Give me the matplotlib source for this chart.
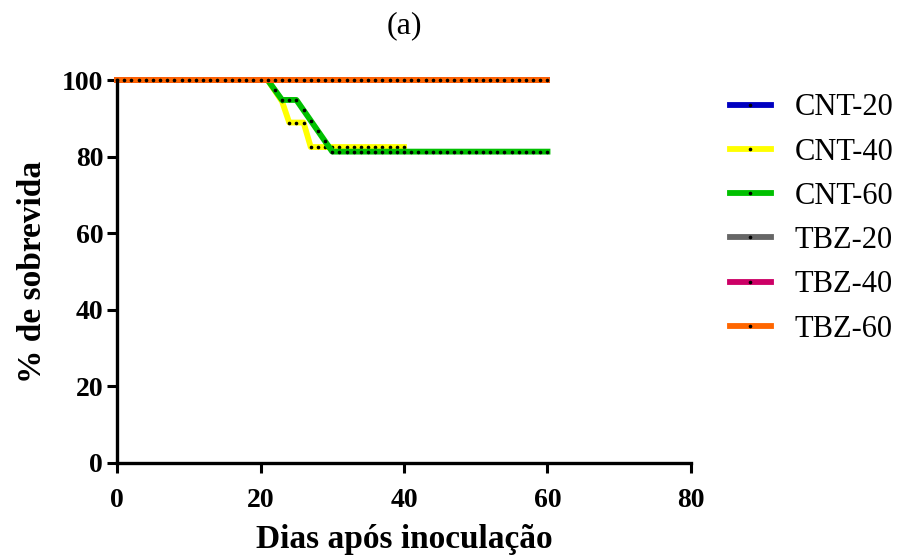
import matplotlib.pyplot as plt
import numpy as np

plt.rcParams['font.family'] = ['Liberation Serif', 'DejaVu Serif']

days60 = list(range(0, 61))
days40 = list(range(0, 41))

# % survival (one point per day)
cnt20 = [100] * 61
cnt40 = [100] * 22 + [97.2, 94.4, 88.9, 88.9, 88.9] + [82.5] * 14
cnt60 = [100] * 22 + [97.4, 94.8, 94.8, 94.8, 92.1, 89.4, 86.7, 84.0] + [81.3] * 31
tbz20 = [100] * 61
tbz40 = [100] * 61
tbz60 = [100] * 61

labels = ['CNT-20', 'CNT-40', 'CNT-60', 'TBZ-20', 'TBZ-40', 'TBZ-60']
colors = ['#0000C0', '#FFFF00', '#00C000', '#666666', '#CC0066', '#FF6600']
xs = [days60, days40, days60, days60, days60, days60]
ys = [cnt20, cnt40, cnt60, tbz20, tbz40, tbz60]

fig = plt.figure(figsize=(9.03, 5.58), dpi=100)
ax = fig.add_axes([0.1296, 0.1703, 0.6356, 0.6863])

for x, y, c, lab in zip(xs, ys, colors, labels):
    ax.plot(x, y, color=c, lw=4.2, marker='o', markersize=1.6,
            markerfacecolor='black', markeredgecolor='black',
            label=lab, clip_on=False)

ax.set_xlim(0, 80)
ax.set_ylim(0, 100)
ax.set_xticks([0, 20, 40, 60, 80])
ax.set_yticks([0, 20, 40, 60, 80, 100])

for s in ['top', 'right']:
    ax.spines[s].set_visible(False)
for s in ['left', 'bottom']:
    ax.spines[s].set_linewidth(2.4)

ax.tick_params(direction='out', length=7, width=2.2, labelsize=20)
ax.tick_params(axis='x', pad=11)
ax.tick_params(axis='y', pad=3)
for t in ax.get_xticklabels() + ax.get_yticklabels():
    t.set_fontweight('bold')

ax.set_xlabel('Dias após inoculação', fontsize=24, fontweight='bold', labelpad=8)
ax.set_ylabel('% de sobrevida', fontsize=24, fontweight='bold', labelpad=10)
ax.set_title('(a)', fontsize=23, pad=34)

ax.legend(loc='upper left', bbox_to_anchor=(1.020, 1.037), frameon=False,
          fontsize=22, handlelength=1.34, handletextpad=0.78, labelspacing=0.50)

fig.savefig('out.png', dpi=100)
